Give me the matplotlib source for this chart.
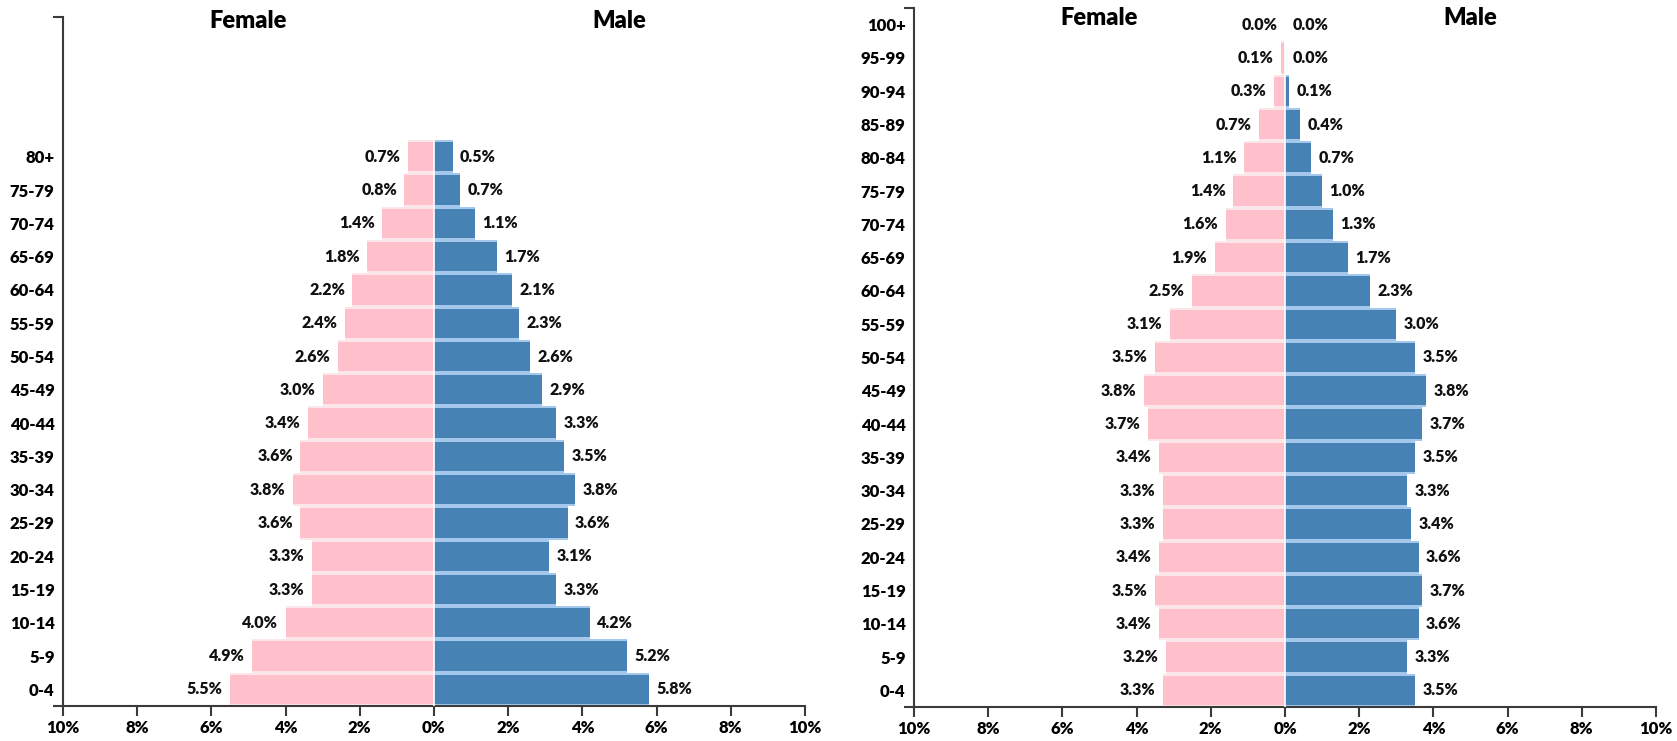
import numpy as np
import matplotlib.pyplot as plt

# left pyramid (0-4 ... 80+)
ages_left = ["0-4", "5-9", "10-14", "15-19", "20-24", "25-29", "30-34", "35-39",
             "40-44", "45-49", "50-54", "55-59", "60-64", "65-69", "70-74", "75-79", "80+"]
female_left = [5.5, 4.9, 4.0, 3.3, 3.3, 3.6, 3.8, 3.6, 3.4, 3.0, 2.6, 2.4, 2.2, 1.8, 1.4, 0.8, 0.7]
male_left = [5.8, 5.2, 4.2, 3.3, 3.1, 3.6, 3.8, 3.5, 3.3, 2.9, 2.6, 2.3, 2.1, 1.7, 1.1, 0.7, 0.5]

# right pyramid (0-4 ... 100+)
ages_right = ["0-4", "5-9", "10-14", "15-19", "20-24", "25-29", "30-34", "35-39",
              "40-44", "45-49", "50-54", "55-59", "60-64", "65-69", "70-74", "75-79",
              "80-84", "85-89", "90-94", "95-99", "100+"]
female_right = [3.3, 3.2, 3.4, 3.5, 3.4, 3.3, 3.3, 3.4, 3.7, 3.8, 3.5, 3.1, 2.5, 1.9, 1.6,
                1.4, 1.1, 0.7, 0.3, 0.1, 0.0]
male_right = [3.5, 3.3, 3.6, 3.7, 3.6, 3.4, 3.3, 3.5, 3.7, 3.8, 3.5, 3.0, 2.3, 1.7, 1.3,
              1.0, 0.7, 0.4, 0.1, 0.0, 0.0]

x_ticks = list(range(-10, 11, 2))

plt.rcParams['font.family'] = ['Lato', 'DejaVu Sans']
plt.rcParams['font.weight'] = 'heavy'

PINK = '#ffc0cb'
PINK_GAP = '#fbe6ea'
BLUE = '#4682b4'
BLUE_GAP = '#a3c8ec'
AXC = '#3a3a3a'


def pyramid(ax, ages, female, male, ytop, title_y):
    y = np.arange(len(ages))
    f = np.array(female)
    m = np.array(male)
    # light band behind, main bar on top -> light lines between rows
    ax.barh(y, -f, height=1.0, color=PINK_GAP, zorder=1)
    ax.barh(y, m, height=1.0, color=BLUE_GAP, zorder=1)
    ax.barh(y, -f, height=0.88, color=PINK, zorder=2)
    ax.barh(y, m, height=0.88, color=BLUE, zorder=2)
    ax.axvline(0, color='white', lw=1.2, zorder=3)

    for yi, v in zip(y, f):
        ax.text(-v - 0.2, yi, f"{v:.1f}%", ha='right', va='center', fontsize=11.5,
                fontweight='heavy', color='#111')
    for yi, v in zip(y, m):
        ax.text(v + 0.2, yi, f"{v:.1f}%", ha='left', va='center', fontsize=11.5,
                fontweight='heavy', color='#111')

    ax.set_xlim(-10, 10)
    ax.set_ylim(-0.5, ytop)
    ax.set_xticks(x_ticks)
    ax.set_xticklabels([f"{abs(t)}%" for t in x_ticks])
    ax.set_yticks(y)
    ax.set_yticklabels(ages)
    ax.set_yticks([-0.5, ytop], minor=True)
    ax.tick_params(axis='y', which='major', length=0, pad=6, labelsize=12)
    ax.tick_params(axis='y', which='minor', length=7, width=1.5, color=AXC)
    ax.tick_params(axis='x', length=7, width=1.5, color=AXC, pad=3, labelsize=12)
    for s in ['top', 'right']:
        ax.spines[s].set_visible(False)
    for s in ['left', 'bottom']:
        ax.spines[s].set_color(AXC)
        ax.spines[s].set_linewidth(1.5)

    tr = ax.get_xaxis_transform()
    ax.text(-5, title_y, "Female", transform=tr, ha='center', va='center',
            fontsize=17, fontweight='heavy')
    ax.text(5, title_y, "Male", transform=tr, ha='center', va='center',
            fontsize=17, fontweight='heavy')


fig = plt.figure(figsize=(16.77, 7.41), dpi=100)
axL = fig.add_axes([63 / 1677, 1 - 706 / 741, 742 / 1677, 689 / 741])
axR = fig.add_axes([914 / 1677, 1 - 707 / 741, 742 / 1677, 699 / 741])

pyramid(axL, ages_left, female_left, male_left, 20.2, 0.994)
pyramid(axR, ages_right, female_right, male_right, 20.5, 0.986)

fig.savefig("out.png", dpi=100)
